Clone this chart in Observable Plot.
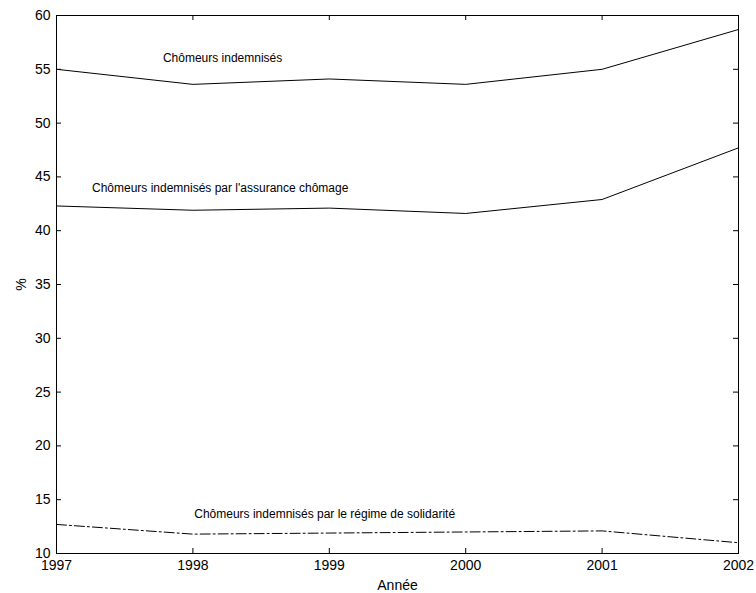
<!DOCTYPE html>
<html><head><meta charset="utf-8">
<script src="https://cdn.jsdelivr.net/npm/d3@7"></script>
<script src="https://cdn.jsdelivr.net/npm/@observablehq/plot@0.6"></script>
<style>
html,body{margin:0;padding:0;background:#fff;}
#chart svg{display:block;}
</style>
</head><body><div id="chart"></div>
<script>
const years = [1997, 1998, 1999, 2000, 2001, 2002];
const indemnises = [55.0, 53.6, 54.1, 53.6, 55.0, 58.7];
const assurance = [42.3, 41.9, 42.1, 41.6, 42.9, 47.7];
const solidarite = [12.7, 11.8, 11.9, 12.0, 12.1, 11.0];
const seriesNames = ["Chômeurs indemnisés", "Chômeurs indemnisés par l'assurance chômage", "Chômeurs indemnisés par le régime de solidarité"];
const labelX = [1997.78, 1997.26, 1998.01];
const labelY = [56.0, 44.0, 13.7];
const xTicks = [1997, 1998, 1999, 2000, 2001, 2002];
const yTicks = [10, 15, 20, 25, 30, 35, 40, 45, 50, 55, 60];

const rows = (vals) => years.map((y, i) => ({year: y, value: vals[i]}));
const labels = seriesNames.map((t, i) => ({text: t, x: labelX[i], y: labelY[i]}));

const W = 756, H = 593, ML = 56, MR = 18, MT = 15, MB = 40, TICK = 5;
const PW = W - ML - MR, PH = H - MT - MB;

const chart = Plot.plot({
  width: W,
  height: H,
  marginLeft: ML,
  marginRight: MR,
  marginTop: MT,
  marginBottom: MB,
  style: {fontFamily: "'Liberation Sans', Arial, sans-serif", background: "#fff", color: "#000"},
  x: {domain: [1997, 2002]},
  y: {domain: [10, 60]},
  marks: [
    Plot.axisX(xTicks, {anchor: "bottom", tickSize: 0, tickPadding: 7, fontSize: 14, tickFormat: d => String(d), label: "Année", labelAnchor: "center", labelArrow: "none", labelOffset: 36}),
    Plot.axisY(yTicks, {anchor: "left", tickSize: 0, tickPadding: 6, fontSize: 14, tickFormat: d => String(d), label: "%", labelAnchor: "center", labelArrow: "none", labelOffset: 40}),
    Plot.ruleX(xTicks, {stroke: "#000", insetTop: PH - TICK}),
    Plot.ruleX(xTicks, {stroke: "#000", insetBottom: PH - TICK}),
    Plot.ruleY(yTicks, {stroke: "#000", insetRight: PW - TICK}),
    Plot.ruleY(yTicks, {stroke: "#000", insetLeft: PW - TICK}),
    Plot.line(rows(indemnises), {x: "year", y: "value", stroke: "#000", strokeWidth: 1}),
    Plot.line(rows(assurance), {x: "year", y: "value", stroke: "#000", strokeWidth: 1}),
    Plot.line(rows(solidarite), {x: "year", y: "value", stroke: "#000", strokeWidth: 1, strokeDasharray: "10,3,2,3"}),
    Plot.text(labels, {x: "x", y: "y", text: "text", textAnchor: "start", fontSize: 12, fill: "#000"}),
    Plot.frame({stroke: "#000", strokeWidth: 1})
  ]
});
document.getElementById("chart").appendChild(chart);
</script>
</body></html>
